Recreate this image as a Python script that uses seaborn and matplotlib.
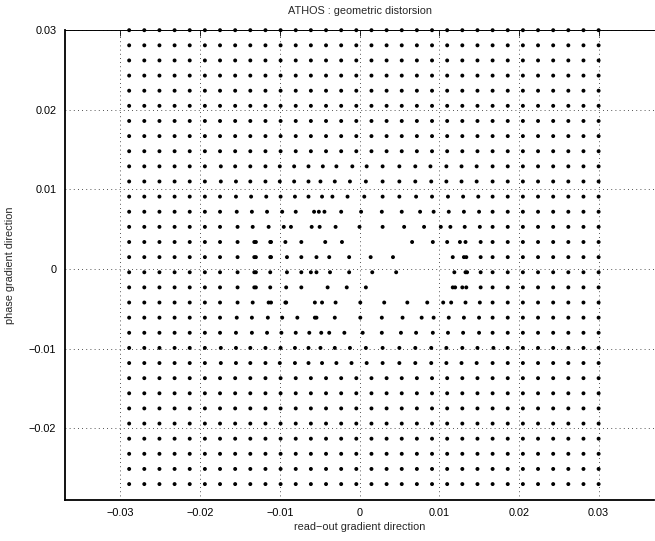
import matplotlib
matplotlib.use("Agg")
import matplotlib.pyplot as plt
import seaborn as sns
import pandas as pd

# ---- data -------------------------------------------------------------
# nominal lattice columns (x) and rows (y)
grid_x = [-0.0289, -0.0270, -0.0251, -0.0232, -0.0213, -0.0194, -0.0175, -0.0156,
          -0.0137, -0.0118, -0.0099, -0.0080, -0.0061, -0.0042, -0.0023, -0.0004,
          0.0015, 0.0034, 0.0053, 0.0072, 0.0091, 0.0110, 0.0129, 0.0148,
          0.0167, 0.0186, 0.0205, 0.0224, 0.0243, 0.0262, 0.0281, 0.0300]
grid_y = [0.0300, 0.0281, 0.0262, 0.0243, 0.0224, 0.0205, 0.0186, 0.0167,
          0.0148, 0.0129, 0.0110, 0.0091, 0.0072, 0.0053, 0.0034, 0.0015,
          -0.0004, -0.0023, -0.0042, -0.0061, -0.0080, -0.0099, -0.0118, -0.0137,
          -0.0156, -0.0175, -0.0194, -0.0213, -0.0232, -0.0251, -0.0270]

# distorted central rows: measured x positions inside the window
window_x = [-0.0200, 0.0175]
row_0129 = [-0.0194, -0.0174, -0.0156, -0.0137, -0.0118, -0.0100, -0.0082, -0.0064, -0.0046, -0.0029,
            -0.0009, 0.0009, 0.0029, 0.0050, 0.0070, 0.0089, 0.0109, 0.0128, 0.0147, 0.0167]
row_0110 = [-0.0194, -0.0174, -0.0155, -0.0137, -0.0118, -0.0100, -0.0082, -0.0064, -0.0049, -0.0031,
            -0.0012, 0.0008, 0.0029, 0.0050, 0.0070, 0.0090, 0.0109, 0.0128, 0.0147, 0.0167]
row_0091 = [-0.0194, -0.0175, -0.0155, -0.0136, -0.0117, -0.0099, -0.0081, -0.0064, -0.0047, -0.0034,
            -0.0015, 0.0006, 0.0029, 0.0050, 0.0071, 0.0091, 0.0111, 0.0130, 0.0149, 0.0167]
row_0072 = [-0.0194, -0.0175, -0.0154, -0.0135, -0.0116, -0.0097, -0.0080, -0.0057, -0.0051, -0.0044,
            -0.0023, 0.0002, 0.0028, 0.0053, 0.0076, 0.0093, 0.0112, 0.0131, 0.0150, 0.0167]
row_0053 = [-0.0194, -0.0175, -0.0153, -0.0134, -0.0114, -0.0095, -0.0086, -0.0060, -0.0050, -0.0030,
            0.0000, 0.0029, 0.0056, 0.0081, 0.0102, 0.0114, 0.0132, 0.0151, 0.0167]
row_0034 = [-0.0194, -0.0175, -0.0153, -0.0132, -0.0130, -0.0112, -0.0111, -0.0093, -0.0073, -0.0043,
            -0.0022, 0.0066, 0.0092, 0.0110, 0.0126, 0.0133, 0.0152, 0.0167]
row_0015 = [-0.0194, -0.0175, -0.0153, -0.0132, -0.0130, -0.0112, -0.0111, -0.0091, -0.0073, -0.0054,
            -0.0038, -0.0013, 0.0014, 0.0042, 0.0117, 0.0131, 0.0134, 0.0152, 0.0167]
row_m0004 = [-0.0194, -0.0175, -0.0153, -0.0132, -0.0130, -0.0112, -0.0091, -0.0073, -0.0061, -0.0054,
             -0.0037, -0.0013, 0.0016, 0.0046, 0.0119, 0.0133, 0.0135, 0.0152, 0.0167]
row_m0023 = [-0.0194, -0.0175, -0.0153, -0.0132, -0.0130, -0.0112, -0.0092, -0.0073, -0.0040, -0.0016,
             0.0008, 0.0117, 0.0120, 0.0129, 0.0134, 0.0152, 0.0167]
row_m0042 = [-0.0194, -0.0175, -0.0153, -0.0134, -0.0114, -0.0111, -0.0093, -0.0092, -0.0056, -0.0047,
             -0.0030, 0.0001, 0.0031, 0.0060, 0.0085, 0.0105, 0.0115, 0.0133, 0.0151, 0.0167]
row_m0061 = [-0.0194, -0.0175, -0.0154, -0.0135, -0.0115, -0.0097, -0.0078, -0.0056, -0.0054, -0.0031,
             0.0001, 0.0028, 0.0054, 0.0078, 0.0093, 0.0112, 0.0131, 0.0150, 0.0167]
row_m0080 = [-0.0194, -0.0175, -0.0155, -0.0135, -0.0116, -0.0098, -0.0080, -0.0063, -0.0048, -0.0038,
             -0.0019, 0.0004, 0.0028, 0.0052, 0.0071, 0.0092, 0.0111, 0.0130, 0.0150, 0.0167]
row_m0099 = [-0.0194, -0.0174, -0.0155, -0.0137, -0.0118, -0.0099, -0.0081, -0.0064, -0.0049, -0.0031,
             -0.0012, 0.0008, 0.0029, 0.0050, 0.0070, 0.0090, 0.0109, 0.0129, 0.0148, 0.0168]
row_m0118 = [-0.0194, -0.0174, -0.0155, -0.0137, -0.0118, -0.0100, -0.0081, -0.0064, -0.0047, -0.0029,
             -0.0010, 0.0009, 0.0029, 0.0050, 0.0070, 0.0090, 0.0109, 0.0128, 0.0147, 0.0167]

distorted_rows = {0.0129: row_0129, 0.0110: row_0110, 0.0091: row_0091, 0.0072: row_0072,
                  0.0053: row_0053, 0.0034: row_0034, 0.0015: row_0015, -0.0004: row_m0004,
                  -0.0023: row_m0023, -0.0042: row_m0042, -0.0061: row_m0061,
                  -0.0080: row_m0080, -0.0099: row_m0099, -0.0118: row_m0118}

x_ticks = [-0.03, -0.02, -0.01, 0, 0.01, 0.02, 0.03]
y_ticks = [-0.02, -0.01, 0, 0.01, 0.02, 0.03]
x_tick_labels = ["\u22120.03", "\u22120.02", "\u22120.01", "0", "0.01", "0.02", "0.03"]
y_tick_labels = ["\u22120.02", "\u22120.01", "0", "0.01", "0.02", "0.03"]

# ---- assemble points ---------------------------------------------------
px, py = [], []
for yv in grid_y:
    if yv in distorted_rows:
        xs_row = [x for x in grid_x if x < window_x[0] or x > window_x[1]] + distorted_rows[yv]
    else:
        xs_row = list(grid_x)
    px += xs_row
    py += [yv] * len(xs_row)
df = pd.DataFrame({"x": px, "y": py})

# ---- plot ----------------------------------------------------------------
sns.set_style("white")
plt.rcParams["font.family"] = ["Liberation Sans", "DejaVu Sans"]

fig = plt.figure(figsize=(6.55, 5.41), dpi=100)
ax = fig.add_axes([64.6 / 655, 1 - 500 / 541, (654.4 - 64.6) / 655, (500 - 30.2) / 541])

sns.scatterplot(data=df, x="x", y="y", ax=ax, s=8, color="black",
                linewidth=0, edgecolor="none", zorder=3, clip_on=False)

ax.set_xlim(-0.037, 0.037)
ax.set_ylim(-0.0290, 0.0300)
ax.set_xticks(x_ticks)
ax.set_xticklabels(x_tick_labels)
ax.set_yticks(y_ticks)
ax.set_yticklabels(y_tick_labels)

ax.grid(True, color="black", linestyle=(0, (1, 4)), linewidth=0.6, alpha=0.9)
ax.tick_params(direction="in", length=4, width=0.6, top=True, right=False,
               labelsize=7.8, pad=6, colors="black")

for side in ["left", "bottom"]:
    ax.spines[side].set_linewidth(1.3)
    ax.spines[side].set_color("black")
ax.spines["top"].set_linewidth(0.7)
ax.spines["top"].set_color("black")
ax.spines["right"].set_visible(False)

ax.set_title("ATHOS : geometric distorsion", fontsize=7.8, pad=12)
ax.set_xlabel("read\u2212out gradient direction", fontsize=7.8, labelpad=3)
ax.set_ylabel("phase gradient direction", fontsize=7.8, labelpad=10)

fig.savefig("out.png", dpi=100)
